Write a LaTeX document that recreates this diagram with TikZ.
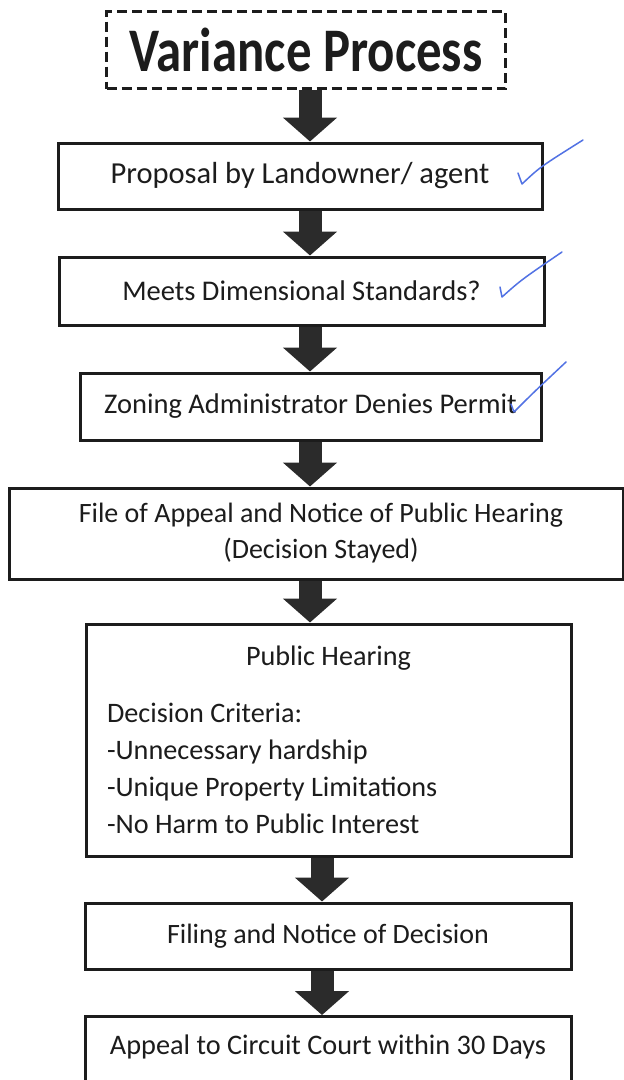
\documentclass[tikz,border=0pt]{standalone}
\usepackage{fontspec}
\setmainfont{Carlito}
\usetikzlibrary{arrows.meta}
\definecolor{ink}{HTML}{1C1C1C}
\definecolor{arrowc}{HTML}{2B2B2B}
\definecolor{pen}{HTML}{5272E4}
\tikzset{
  box/.style={draw=ink, line width=3pt, fill=white, inner sep=0pt, align=center, text=ink, font=\fontsize{28}{37}\selectfont},
  size/.style={font=\fontsize{#1}{36}\selectfont},
  titlebox/.style={draw=ink, line width=3pt, dash pattern=on 10pt off 5pt, inner sep=0pt, text=ink, font=\bfseries\fontsize{62}{70}\selectfont},
  blk/.style={draw=arrowc, line width=23pt, -{Triangle[width=53pt,length=24pt]}},
  tick/.style={draw=pen, line width=1.5pt, line cap=round, line join=round},
}

\begin{document}
\begin{tikzpicture}[x=1pt,y=1pt]
  \useasboundingbox (0,0) rectangle (624,-1080);
  \clip (0,0) rectangle (624,-1080);
  \fill[white] (0,0) rectangle (624,-1080);
  \coordinate (ax) at (310,0);
  \coordinate (bx) at (322,0);
  \node[titlebox, minimum width=399pt, minimum height=77pt] (title) at (306,-50) {\scalebox{0.82}[1]{Variance Process}};
  \node[box, size=30.5, minimum width=484pt, minimum height=66pt] (prop) at (300,-176) {Proposal by Landowner/ agent};
  \node[box, size=28.5, minimum width=485pt, minimum height=68pt] (dim) at (301.5,-291) {Meets Dimensional Standards?};
  \node[box, size=28.5, minimum width=461pt, minimum height=67pt] (deny) at (310.5,-406.5) {Zoning Administrator Denies Permit};
  \node[box, size=28, minimum width=614pt, minimum height=91pt] (appeal) at (316,-533.5) {\hspace*{10pt}File of Appeal and Notice of Public Hearing\\\hspace*{10pt}(Decision Stayed)};
  \node[box, font=\fontsize{28.2}{37}\selectfont, minimum width=485pt, minimum height=232pt, align=left] (hear) at (328.5,-740)
    {\makebox[443pt]{Public Hearing}\\[20pt]Decision Criteria:\\-Unnecessary hardship\\-Unique Property Limitations\\-No Harm to Public Interest};
  \node[box, minimum width=486pt, minimum height=66pt] (filing) at (328,-936) {Filing and Notice of Decision};
  \node[box, size=28.3, anchor=north, minimum width=486pt, text height=18pt, text depth=60pt, inner ysep=20pt] (circ) at (328,-1015) {Appeal to Circuit Court within 30 Days};
  \draw[blk] (title.south -| ax) -- (prop.north -| ax);
  \draw[blk] (prop.south -| ax) -- (dim.north -| ax);
  \draw[blk] (dim.south -| ax) -- (deny.north -| ax);
  \draw[blk] (deny.south -| ax) -- (appeal.north -| ax);
  \draw[blk] (appeal.south -| ax) -- (hear.north -| ax);
  \draw[blk] (hear.south -| bx) -- (filing.north -| bx);
  \draw[blk] (filing.south -| bx) -- (circ.north -| bx);
  \draw[tick] (518,-173) -- (522,-184) .. controls (540,-167) .. (583,-140);
  \draw[tick] (500,-287) -- (502,-297) .. controls (521,-280) .. (562,-252);
  \draw[tick] (511,-404) -- (514,-412) .. controls (534,-392) .. (566,-362);
\end{tikzpicture}
\end{document}
